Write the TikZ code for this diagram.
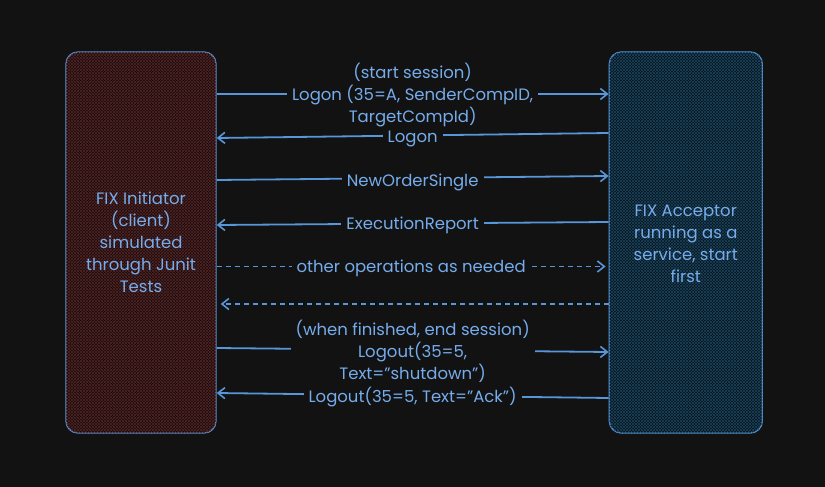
\documentclass[tikz,border=0pt]{standalone}
\usepackage{fontspec}
\setmainfont{Poppins}
\usepackage{xcolor}
\definecolor{bgdark}{RGB}{18,18,18}
\definecolor{fixblue}{RGB}{88,150,218}
\definecolor{fixtext}{RGB}{118,172,236}
\definecolor{initfill}{RGB}{22,15,15}
\definecolor{inithatch}{RGB}{84,34,34}
\definecolor{accfill}{RGB}{13,20,26}
\definecolor{acchatch}{RGB}{22,68,94}
\usetikzlibrary{arrows.meta, positioning, patterns}

\tikzset{
  party/.style={draw=fixblue, line width=1.3pt, rounded corners=12pt, text=fixtext, align=center,
    font=\fontsize{16.5}{22}\selectfont, minimum height=381pt, inner sep=0pt},
  msg/.style={draw=fixblue, line width=1.8pt, -{Straight Barb[length=7pt,width=11pt,line width=1.6pt]}},
  msgdash/.style={msg, line width=1.2pt, dash pattern=on 5pt off 4pt},
  lbl/.style={fill=bgdark, text=fixtext, align=center, inner xsep=5pt, inner ysep=0pt,
    font=\fontsize{16.5}{22}\selectfont, yshift=-1.5pt}
}

\begin{document}
\begin{tikzpicture}[x=1pt, y=-1pt]
  % canvas
  \fill[bgdark] (0,0) rectangle (825,487);
  \useasboundingbox (0,0) rectangle (825,487);

  % the two parties
  \node[party, minimum width=150pt, fill=initfill,
        postaction={pattern=north east lines, pattern color=inithatch},
        postaction={pattern=north west lines, pattern color=inithatch}]
    (ini) at (141,242.5) {FIX Initiator\\(client)\\simulated\\through Junit\\Tests};
  \node[party, minimum width=153pt, fill=accfill, right=392pt of ini,
        postaction={pattern=north east lines, pattern color=acchatch},
        postaction={pattern=north west lines, pattern color=acchatch}]
    (acc) {};
  \node[text=fixtext, align=center, font=\fontsize{16.5}{22}\selectfont]
    (acctext) at ([yshift=-1pt]acc.center) {FIX Acceptor\\running as a\\service, start\\first};

  % session start
  \draw[msg] (ini.east |- 0,94) -- node[lbl] (logon) {(start session)\\Logon (35=A, SenderCompID,\\TargetCompId)} (acc.west |- 0,94);
  \draw[msg] (acc.west |- 0,133) -- node[lbl, yshift=-2pt] (logonack) {Logon} (ini.east |- 0,138);

  % orders
  \draw[msg] (ini.east |- 0,180) -- node[lbl, yshift=-2.5pt] (nos) {NewOrderSingle} (acc.west |- 0,176);
  \draw[msg] (acc.west |- 0,222) -- node[lbl] (exec) {ExecutionReport} (ini.east |- 0,225);

  % other traffic
  \draw[msgdash] (ini.east |- 0,266.5) -- node[lbl] (other) {other operations as needed} ([xshift=-3pt]acc.west |- 0,266.5);
  \draw[msgdash] (acc.west |- 0,304) -- ([xshift=4pt]ini.east |- 0,304);

  % session end
  \draw[msg] (ini.east |- 0,348) -- node[lbl] (logout) {(when finished, end session)\\Logout(35=5,\\Text="shutdown")} (acc.west |- 0,352);
  \draw[msg] (acc.west |- 0,398) -- node[lbl] (logoutack) {Logout(35=5, Text="Ack")} (ini.east |- 0,393);
\end{tikzpicture}
\end{document}
